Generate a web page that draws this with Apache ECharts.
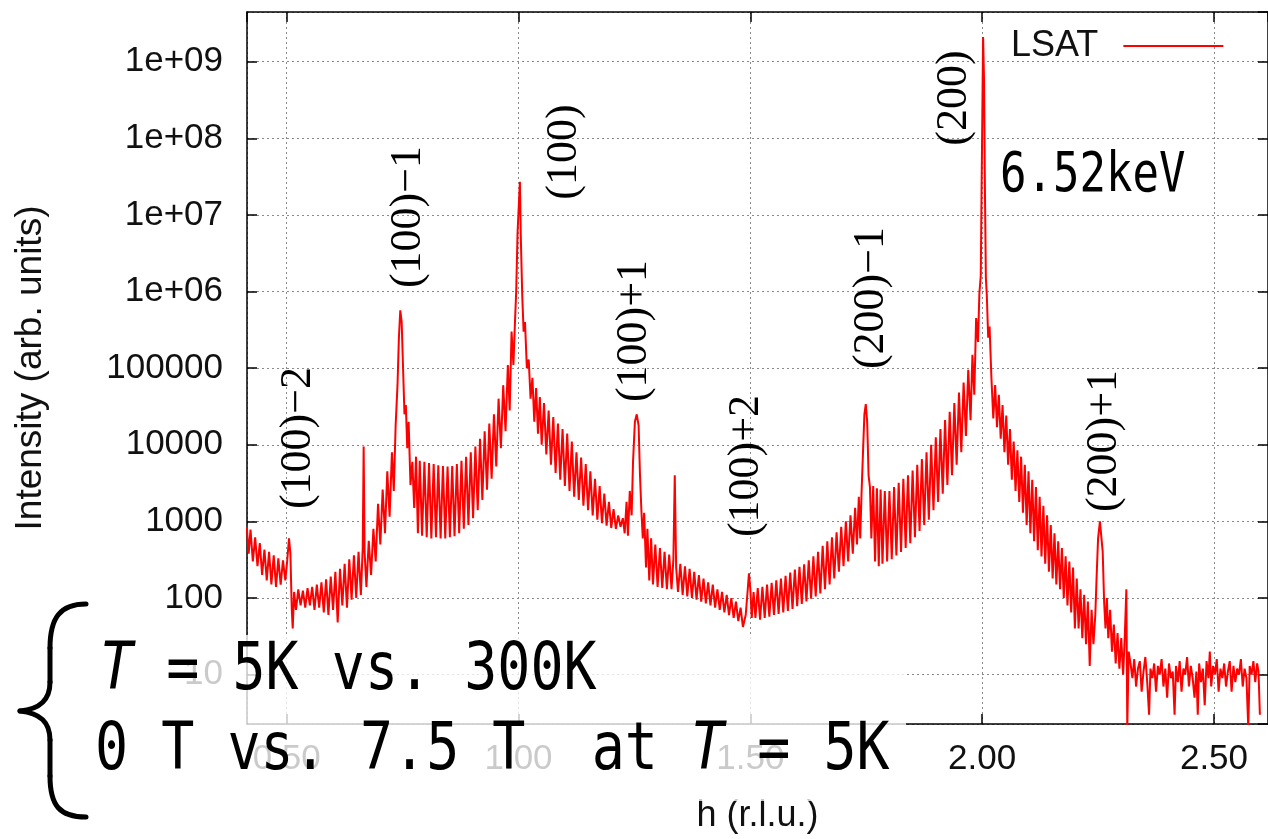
<!DOCTYPE html>
<html>
<head>
<meta charset="utf-8">
<script src="https://cdn.jsdelivr.net/npm/echarts@6/dist/echarts.min.js"></script>
<style>
  html, body { margin: 0; padding: 0; background: #fff; }
  #chart { width: 1268px; height: 839px; }
</style>
</head>
<body>
<div id="chart"></div>
<script>
// LSAT h-scan at 6.52 keV: intensity (log scale) vs h in r.l.u.
// Each array holds [h, intensity] pairs for one stretch of the scan.

// 0.414 – 0.783 : (100)-2 and (100)-1
const scanLowH = [
  [0.414, 850], [0.418, 380], [0.422, 780], [0.427, 300], [0.432, 620], [0.437, 260],
  [0.442, 520], [0.447, 200], [0.452, 430], [0.457, 170], [0.462, 400], [0.467, 150],
  [0.472, 360], [0.477, 140], [0.482, 330], [0.487, 150], [0.492, 310], [0.497, 170],
  [0.501, 300], [0.505, 600], [0.508, 380], [0.511, 70], [0.513, 40], [0.516, 120],
  [0.520, 70], [0.525, 130], [0.530, 80], [0.535, 125], [0.540, 75], [0.545, 135],
  [0.550, 80], [0.555, 140], [0.560, 70], [0.565, 150], [0.570, 75], [0.575, 160],
  [0.580, 65], [0.585, 175], [0.590, 60], [0.595, 190], [0.600, 70], [0.605, 220],
  [0.610, 48], [0.615, 240], [0.620, 80], [0.625, 280], [0.630, 75], [0.635, 320],
  [0.640, 95], [0.645, 360], [0.650, 100], [0.655, 400], [0.660, 110], [0.664, 450],
  [0.666, 9500], [0.668, 400], [0.672, 140], [0.677, 560], [0.682, 200], [0.687, 800],
  [0.692, 300], [0.697, 1700], [0.702, 500], [0.707, 2600], [0.712, 700], [0.717, 4500],
  [0.722, 1150], [0.727, 8000], [0.731, 2500], [0.735, 18000], [0.739, 60000], [0.742, 250000],
  [0.745, 570000], [0.748, 400000], [0.751, 100000], [0.754, 25000], [0.757, 33000], [0.760, 9000],
  [0.763, 20000], [0.767, 3000], [0.771, 6000], [0.775, 1500], [0.779, 7000], [0.783, 700]
];

// 0.787 – 1.340 : (100) and (100)+1
const scan100 = [
  [0.787, 6200], [0.792, 650], [0.797, 6000], [0.802, 620], [0.807, 5800], [0.812, 600],
  [0.817, 5600], [0.822, 620], [0.827, 5400], [0.832, 600], [0.837, 5300], [0.842, 600],
  [0.847, 5200], [0.852, 620], [0.857, 5300], [0.862, 640], [0.867, 5600], [0.872, 700],
  [0.877, 6200], [0.882, 800], [0.887, 7000], [0.892, 900], [0.897, 8000], [0.902, 1100],
  [0.907, 9500], [0.912, 1400], [0.917, 12000], [0.922, 1900], [0.927, 15000], [0.932, 2600],
  [0.937, 19000], [0.942, 3600], [0.947, 25000], [0.952, 5200], [0.957, 40000], [0.962, 9000],
  [0.967, 60000], [0.972, 15000], [0.977, 110000], [0.981, 28000], [0.985, 300000], [0.989, 110000],
  [0.992, 350000], [0.995, 1000000], [0.998, 6000000], [1.001, 15000000], [1.003, 27000000], [1.005, 5000000],
  [1.008, 900000], [1.011, 300000], [1.014, 400000], [1.018, 100000], [1.022, 130000], [1.026, 40000],
  [1.030, 75000], [1.034, 20000], [1.038, 55000], [1.042, 14000], [1.046, 42000], [1.050, 10000],
  [1.055, 35000], [1.060, 7500], [1.065, 28000], [1.070, 5500], [1.075, 23000], [1.080, 4300],
  [1.085, 19000], [1.090, 3500], [1.095, 16000], [1.100, 2900], [1.105, 14000], [1.110, 2500],
  [1.115, 11000], [1.120, 2100], [1.125, 8000], [1.130, 1900], [1.135, 6800], [1.140, 1600],
  [1.145, 5600], [1.150, 1400], [1.155, 4500], [1.160, 1200], [1.165, 3600], [1.170, 1050],
  [1.175, 2900], [1.180, 950], [1.185, 2300], [1.190, 880], [1.195, 1800], [1.200, 820],
  [1.205, 1450], [1.210, 800], [1.215, 1200], [1.220, 850], [1.225, 1100], [1.229, 700],
  [1.233, 1800], [1.236, 650], [1.240, 2500], [1.244, 1200], [1.247, 6000], [1.251, 20000],
  [1.255, 25000], [1.259, 18000], [1.262, 4000], [1.265, 1400], [1.268, 600], [1.271, 1300],
  [1.275, 250], [1.278, 800], [1.282, 170], [1.286, 600], [1.290, 150], [1.295, 500],
  [1.300, 140], [1.305, 450], [1.310, 135], [1.315, 400], [1.320, 130], [1.325, 370],
  [1.330, 130], [1.334, 320], [1.337, 4000], [1.340, 250]
];

// 1.344 – 1.761 : (100)+2 and (200)-1
const scanMidH = [
  [1.344, 120], [1.349, 280], [1.354, 110], [1.359, 260], [1.364, 105], [1.369, 240],
  [1.374, 100], [1.379, 220], [1.384, 95], [1.389, 200], [1.394, 90], [1.399, 180],
  [1.404, 85], [1.409, 160], [1.414, 80], [1.419, 150], [1.424, 75], [1.429, 130],
  [1.434, 70], [1.439, 120], [1.444, 65], [1.449, 110], [1.454, 60], [1.459, 100],
  [1.464, 55], [1.469, 90], [1.474, 50], [1.479, 75], [1.484, 42], [1.490, 60],
  [1.494, 120], [1.497, 210], [1.500, 130], [1.503, 55], [1.507, 120], [1.511, 55],
  [1.516, 135], [1.521, 52], [1.526, 140], [1.531, 55], [1.536, 150], [1.541, 57],
  [1.546, 158], [1.551, 60], [1.556, 170], [1.561, 62], [1.566, 180], [1.571, 65],
  [1.576, 195], [1.581, 68], [1.586, 215], [1.591, 72], [1.596, 235], [1.601, 78],
  [1.606, 255], [1.611, 84], [1.616, 275], [1.621, 90], [1.626, 310], [1.631, 98],
  [1.636, 350], [1.641, 105], [1.646, 400], [1.651, 115], [1.656, 480], [1.661, 130],
  [1.666, 550], [1.671, 150], [1.676, 620], [1.681, 180], [1.686, 720], [1.691, 220],
  [1.696, 850], [1.701, 260], [1.706, 1000], [1.711, 300], [1.716, 1200], [1.721, 380],
  [1.726, 1500], [1.730, 500], [1.734, 2100], [1.737, 600], [1.740, 2500], [1.743, 8000],
  [1.746, 25000], [1.749, 34000], [1.752, 20000], [1.755, 4000], [1.758, 2800], [1.761, 600]
];

// 1.765 – 2.316 : (200) and (200)+1
const scan200 = [
  [1.765, 2900], [1.769, 300], [1.773, 2700], [1.777, 260], [1.781, 2600], [1.785, 280],
  [1.790, 2500], [1.795, 300], [1.800, 2500], [1.805, 320], [1.810, 2800], [1.815, 360],
  [1.820, 3200], [1.825, 400], [1.830, 3600], [1.835, 450], [1.840, 4000], [1.845, 520],
  [1.850, 4600], [1.855, 620], [1.860, 5500], [1.865, 750], [1.870, 6500], [1.875, 900],
  [1.880, 8000], [1.885, 1050], [1.890, 10000], [1.895, 1400], [1.900, 12500], [1.905, 1800],
  [1.910, 16000], [1.915, 2300], [1.920, 21000], [1.925, 3000], [1.930, 27000], [1.935, 4000],
  [1.940, 35000], [1.945, 5500], [1.950, 48000], [1.955, 8000], [1.960, 65000], [1.965, 13000],
  [1.970, 95000], [1.975, 21000], [1.979, 150000], [1.983, 45000], [1.987, 450000], [1.991, 220000],
  [1.994, 950000], [1.997, 1600000], [1.999, 30000000], [2.002, 2100000000], [2.004, 600000000], [2.006, 20000000],
  [2.008, 1500000], [2.010, 900000], [2.013, 250000], [2.016, 350000], [2.020, 74000], [2.024, 22000],
  [2.028, 60000], [2.032, 17000], [2.036, 45000], [2.040, 12000], [2.044, 33000], [2.048, 8000],
  [2.052, 24000], [2.056, 5500], [2.060, 16000], [2.064, 3500], [2.068, 11000], [2.072, 2500],
  [2.076, 8500], [2.080, 1800], [2.084, 7000], [2.088, 1300], [2.092, 5500], [2.096, 900],
  [2.100, 4500], [2.104, 700], [2.108, 3500], [2.112, 550], [2.116, 2800], [2.120, 420],
  [2.124, 2100], [2.128, 350], [2.132, 1600], [2.136, 280], [2.140, 1200], [2.144, 220],
  [2.148, 900], [2.152, 180], [2.156, 700], [2.160, 150], [2.164, 550], [2.168, 130],
  [2.172, 450], [2.176, 100], [2.180, 350], [2.184, 80], [2.188, 300], [2.192, 65],
  [2.196, 250], [2.200, 40], [2.204, 180], [2.208, 40], [2.212, 130], [2.216, 30],
  [2.220, 110], [2.224, 25], [2.228, 90], [2.232, 13], [2.236, 70], [2.240, 25],
  [2.244, 60], [2.247, 200], [2.250, 600], [2.254, 1000], [2.257, 950], [2.260, 400],
  [2.263, 90], [2.266, 40], [2.269, 100], [2.272, 30], [2.276, 70], [2.280, 20],
  [2.284, 45], [2.288, 14], [2.292, 35], [2.296, 12], [2.300, 30], [2.304, 10],
  [2.307, 25], [2.311, 130], [2.313, 2], [2.316, 20]
];

// 2.320 – 2.599 : background tail
const scanTail = [
  [2.320, 14], [2.324, 9], [2.328, 16], [2.332, 7], [2.336, 12], [2.340, 15],
  [2.344, 6], [2.348, 11], [2.352, 17], [2.356, 8], [2.360, 3], [2.363, 12],
  [2.367, 9], [2.371, 14], [2.375, 6], [2.379, 13], [2.383, 10], [2.387, 16],
  [2.391, 7], [2.395, 12], [2.399, 5], [2.403, 14], [2.407, 9], [2.411, 11],
  [2.415, 3], [2.418, 13], [2.422, 8], [2.426, 15], [2.430, 6], [2.434, 12],
  [2.438, 10], [2.442, 17], [2.446, 7], [2.450, 13], [2.454, 9], [2.458, 5],
  [2.462, 11], [2.465, 3], [2.468, 14], [2.472, 8], [2.476, 12], [2.480, 4],
  [2.484, 15], [2.488, 9], [2.491, 20], [2.494, 7], [2.498, 13], [2.502, 10],
  [2.506, 16], [2.510, 6], [2.514, 12], [2.518, 9], [2.522, 14], [2.526, 7],
  [2.530, 11], [2.534, 15], [2.538, 6], [2.542, 13], [2.546, 8], [2.550, 12],
  [2.554, 10], [2.558, 16], [2.562, 7], [2.566, 12], [2.570, 9], [2.574, 2],
  [2.577, 13], [2.581, 10], [2.585, 15], [2.589, 8], [2.593, 14], [2.596, 11],
  [2.599, 3]
];

// Tick labels of the logarithmic intensity axis, indexed by decade
const yTickLabels = ['1', '10', '100', '1000', '10000', '100000', '1e+06', '1e+07', '1e+08', '1e+09'];

// Reflection labels drawn vertically above the peaks
const peakLabels = ['(100)\u22122', '(100)\u22121', '(100)', '(100)+1', '(100)+2', '(200)\u22121', '(200)', '(200)+1'];

const seriesName = 'LSAT';
const energyLabel = '6.52keV';
const conditionLines = ['{i|T} = 5K vs. 300K', '0 T vs. 7.5 T  at {i|T} = 5K'];

const H_RANGE = [0.4144, 2.6165];
const I_RANGE = [2.27, 4.45e9];

const SANS = '"Liberation Sans", Arial, Helvetica, sans-serif';
const SERIF = '"Liberation Serif", "Times New Roman", serif';
const MONO = '"DejaVu Sans Mono", "Liberation Mono", monospace';

const scan = [].concat(scanLowH, scan100, scanMidH, scan200, scanTail);

const frameLine = { show: true, onZero: false, lineStyle: { color: '#000', width: 1.5 } };
const innerTick = { show: true, inside: true, length: 10, lineStyle: { color: '#000', width: 1.5 } };
const dottedGrid = { show: true, lineStyle: { color: '#8a8a8a', width: 1, type: [2, 3] } };

function hLabel(v) {
  return Math.abs(v * 2 - Math.round(v * 2)) < 1e-6 ? v.toFixed(2) : '';
}
function iLabel(v) {
  const e = Math.log10(v);
  const k = Math.round(e);
  return Math.abs(e - k) < 1e-6 && yTickLabels[k] !== undefined ? yTickLabels[k] : '';
}

// Vertical reflection label centred at (x, y)
function peakText(text, x, y) {
  return {
    type: 'text', x: x, y: y, rotation: Math.PI / 2, z: 60,
    style: { text: text, fill: '#000', fontFamily: SERIF, fontSize: 44, align: 'center', verticalAlign: 'middle' }
  };
}
function monoText(text, x, y, size, sy) {
  return {
    type: 'text', x: x, y: y, scaleY: sy, z: 102,
    style: {
      text: text, fill: '#000', fontFamily: MONO, fontSize: size, align: 'left', verticalAlign: 'middle',
      rich: { i: { fontFamily: MONO, fontSize: size, fontStyle: 'italic', fill: '#000' } }
    }
  };
}
function braceCurve(x1, y1, cpx1, cpy1, cpx2, cpy2, x2, y2) {
  return {
    type: 'bezierCurve', z: 102,
    shape: { x1: x1, y1: y1, cpx1: cpx1, cpy1: cpy1, cpx2: cpx2, cpy2: cpy2, x2: x2, y2: y2 },
    style: { stroke: '#000', lineWidth: 5, fill: null, lineCap: 'round' }
  };
}
function braceLine(x1, y1, x2, y2) {
  return {
    type: 'line', z: 102,
    shape: { x1: x1, y1: y1, x2: x2, y2: y2 },
    style: { stroke: '#000', lineWidth: 5, lineCap: 'round' }
  };
}

const chart = echarts.init(document.getElementById('chart'), null, { renderer: 'canvas' });

chart.setOption({
  animation: false,
  backgroundColor: '#fff',
  grid: { left: 247, top: 12, right: 0, bottom: 110, containLabel: false },
  legend: {
    data: [seriesName],
    left: 1006, top: 23,
    align: 'right',
    icon: 'rect', itemWidth: 100, itemHeight: 2,
    textStyle: { fontFamily: SANS, fontSize: 36, color: '#111', padding: [0, 20, 0, 0] }
  },
  xAxis: [
    {
      type: 'value', position: 'bottom', min: H_RANGE[0], max: H_RANGE[1], splitNumber: 5,
      axisLine: frameLine, axisTick: innerTick, splitLine: dottedGrid,
      axisLabel: { formatter: hLabel, showMinLabel: false, showMaxLabel: false, margin: 18,
                   fontFamily: SANS, fontSize: 35, color: '#111' },
      name: 'h (r.l.u.)', nameLocation: 'middle', nameGap: 74,
      nameTextStyle: { fontFamily: SANS, fontSize: 36, color: '#111' }
    },
    {
      type: 'value', position: 'top', min: H_RANGE[0], max: H_RANGE[1], splitNumber: 5,
      axisLine: frameLine, axisTick: innerTick, splitLine: { show: false }, axisLabel: { show: false }
    }
  ],
  yAxis: [
    {
      type: 'log', logBase: 10, position: 'left', min: I_RANGE[0], max: I_RANGE[1],
      axisLine: frameLine, axisTick: innerTick, splitLine: dottedGrid, minorTick: { show: false },
      axisLabel: { formatter: iLabel, showMinLabel: false, showMaxLabel: false, margin: 24,
                   fontFamily: SANS, fontSize: 35, color: '#111' },
      name: 'Intensity (arb. units)', nameLocation: 'middle', nameGap: 198,
      nameTextStyle: { fontFamily: SANS, fontSize: 37, color: '#111' }
    },
    {
      type: 'log', logBase: 10, position: 'right', min: I_RANGE[0], max: I_RANGE[1],
      axisLine: frameLine, axisTick: innerTick, splitLine: { show: false }, axisLabel: { show: false }
    }
  ],
  series: [
    {
      name: seriesName, type: 'line', xAxisIndex: 0, yAxisIndex: 0,
      data: scan, symbol: 'none', showSymbol: false, smooth: false,
      lineStyle: { color: '#ff0000', width: 2 }, itemStyle: { color: '#ff0000' },
      z: 3
    }
  ],
  graphic: [
    peakText(peakLabels[0], 298, 438),
    peakText(peakLabels[1], 408, 217),
    peakText(peakLabels[2], 564, 152),
    peakText(peakLabels[3], 634, 331),
    peakText(peakLabels[4], 746, 466),
    peakText(peakLabels[5], 871, 298),
    peakText(peakLabels[6], 954, 98),
    peakText(peakLabels[7], 1104, 441),
    monoText(energyLabel, 1000, 177, 44, 1.25),
    // translucent panel with the measurement conditions
    {
      type: 'rect', z: 100,
      shape: { x: 0, y: 635, width: 906, height: 166 },
      style: { fill: 'rgba(255,255,255,0.78)' }
    },
    braceCurve(86, 604, 60, 604, 50, 618, 50, 648),
    braceLine(50, 648, 50, 682),
    braceCurve(50, 682, 50, 700, 40, 709, 20, 711),
    braceCurve(20, 711, 40, 713, 50, 722, 50, 740),
    braceLine(50, 740, 50, 776),
    braceCurve(50, 776, 50, 806, 60, 817, 86, 817),
    monoText(conditionLines[0], 100, 672, 55, 1.2),
    monoText(conditionLines[1], 95, 752, 55, 1.2)
  ]
});
</script>
</body>
</html>
